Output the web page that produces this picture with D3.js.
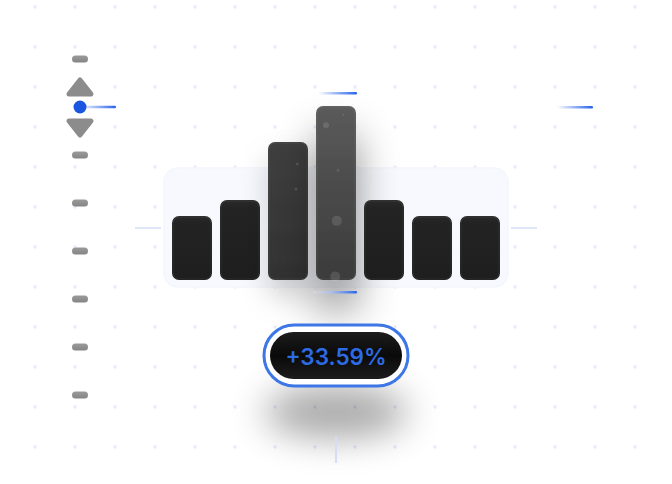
<!DOCTYPE html>
<html><head><meta charset="utf-8">
<script src="https://cdn.jsdelivr.net/npm/d3@7"></script>
<style>
html,body{margin:0;padding:0;background:#fff;}
svg{display:block;}
</style></head>
<body>
<svg id="chart" width="672" height="484"></svg>
<script>
// ---- data ----
const categories = ["A","B","C","D","E","F","G"];
const values = [64, 80, 138, 174, 80, 64, 64];
const highlight = [0, 0, 1, 2, 0, 0, 0]; // 0 normal, 1 mid, 2 peak
const changeLabel = "+33.59%";
const sliderStops = [0,1,2,3,4,5,6,7];
const sliderActive = 1;
// bubble decorations: [barIndex, fx, fy(0 top..1 bottom), r]
const bubbles = [[3,0.25,0.11,3],[3,0.55,0.37,1.3],[3,0.52,0.66,5],[3,0.48,0.98,5],[3,0.68,0.05,1],
                 [2,0.73,0.16,1.5],[2,0.7,0.34,1.5]];

const svg = d3.select("#chart");
const W = 672, H = 484;
const defs = svg.append("defs");

// grid dots
const gx = d3.range(35, W, 40), gy = d3.range(7, H, 40);
const dots = svg.append("g");
gx.forEach(x => gy.forEach(y => {
  dots.append("circle").attr("cx", x).attr("cy", y).attr("r", 1.7).attr("fill", "#e6eafa");
}));

// filters
function shadow(id, dy, sd, op){
  const f = defs.append("filter").attr("id", id).attr("x","-150%").attr("y","-100%").attr("width","400%").attr("height","300%");
  f.append("feDropShadow").attr("dx",0).attr("dy",dy).attr("stdDeviation",sd).attr("flood-color","#000").attr("flood-opacity",op);
}
shadow("shPeak", 30, 20, 0.45);
shadow("shMid", 16, 14, 0.18);
const fb = defs.append("filter").attr("id","blurBig").attr("x","-100%").attr("y","-100%").attr("width","300%").attr("height","300%");
fb.append("feGaussianBlur").attr("stdDeviation", 18);

// gradients
function lin(id, stops, x1=0,y1=0,x2=0,y2=1){
  const g = defs.append("linearGradient").attr("id",id).attr("x1",x1).attr("y1",y1).attr("x2",x2).attr("y2",y2);
  stops.forEach(s => g.append("stop").attr("offset",s[0]).attr("stop-color",s[1]).attr("stop-opacity", s[2]===undefined?1:s[2]));
}
lin("gBar0", [[0,"#2a2a2a"],[0.1,"#232323"],[1,"#1e1e1e"]]);
lin("gBar1", [[0,"#3f3f3f"],[1,"#323232"]]);
lin("gBar2", [[0,"#5b5b5b"],[0.5,"#4a4a4a"],[1,"#3b3b3b"]]);
lin("gBlueR", [[0,"#2563eb",0],[1,"#2563eb",1]], 0,0,1,0);
lin("gBlueR2", [[0,"#dcdcdc",0.6],[0.4,"#a9c0f2",0.8],[1,"#2563eb",1]], 0,0,1,0);
lin("gSlider", [[0,"#9a9a9a"],[1,"#858585"]]);
lin("gPill", [[0,"#1c1c1c"],[0.5,"#0a0a0a"],[1,"#1c1c1c"]]);

// scales
const x = d3.scaleBand().domain(categories).range([172 - 4, 500 + 4]).paddingInner(8/48).paddingOuter(4/48);
const y = d3.scaleLinear().domain([0, d3.max(values)]).range([280, 106]);

// panel
svg.append("rect").attr("x", x.range()[0]-4).attr("y", 168).attr("width", x.range()[1]-x.range()[0]+8).attr("height", 119)
  .attr("rx", 14).attr("fill", "#f8f9fe").attr("stroke","#f4f6fd").attr("stroke-width",1.5);

// side light lines
svg.append("line").attr("x1",135).attr("x2",161).attr("y1",228).attr("y2",228).attr("stroke","#dfe6f8").attr("stroke-width",2);
svg.append("line").attr("x1",511).attr("x2",537).attr("y1",228).attr("y2",228).attr("stroke","#dfe6f8").attr("stroke-width",2);

// bars
const bars = svg.append("g");
categories.forEach((c,i) => {
  const h = highlight[i];
  bars.append("rect")
    .attr("x", x(c)).attr("y", y(values[i]))
    .attr("width", x.bandwidth()).attr("height", y(0) - y(values[i]))
    .attr("rx", 7)
    .attr("fill", `url(#gBar${h})`)
    .attr("filter", h===2 ? "url(#shPeak)" : (h===1 ? "url(#shMid)" : null));
  bars.append("rect")
    .attr("x", x(c)+1).attr("y", y(values[i])+1)
    .attr("width", x.bandwidth()-2).attr("height", y(0) - y(values[i]) - 2)
    .attr("rx", 6).attr("fill","none")
    .attr("stroke", "rgba(255,255,255,0.05)").attr("stroke-width",1.5);
});
bubbles.forEach(b => {
  const c = categories[b[0]];
  const top = y(values[b[0]]), bot = y(0);
  bars.append("circle").attr("cx", x(c) + b[1]*x.bandwidth()).attr("cy", top + b[2]*(bot-top)).attr("r", b[3])
    .attr("fill", "rgba(255,255,255,0.12)");
});

// blue accent lines around peak bar
const peak = categories[values.indexOf(d3.max(values))];
svg.append("rect").attr("x", x(peak)+2).attr("y", 92).attr("width", x.bandwidth()-1).attr("height", 2.5).attr("rx",1.2).attr("fill","url(#gBlueR)");
svg.append("rect").attr("x", x(peak)-3).attr("y", 291).attr("width", x.bandwidth()+4).attr("height", 2.5).attr("rx",1.2).attr("fill","url(#gBlueR2)");
svg.append("rect").attr("x", 557).attr("y", 106).attr("width", 36).attr("height", 2.5).attr("rx",1.2).attr("fill","url(#gBlueR)");

// slider
const sy = d3.scaleLinear().domain([0,7]).range([59, 395]);
const sl = svg.append("g");
sliderStops.forEach(s => {
  if (s === sliderActive) return;
  sl.append("rect").attr("x", 72).attr("y", sy(s)-3.5).attr("width", 16).attr("height", 7).attr("rx", 3.5).attr("fill","url(#gSlider)");
});
const cy = sy(sliderActive);
sl.append("rect").attr("x", 80).attr("y", cy-1.2).attr("width", 36).attr("height", 2.5).attr("rx",1.2).attr("fill","url(#gBlueR)");
const tri = d3.line().curve(d3.curveLinearClosed);
sl.append("path").attr("d", tri([[80,80],[91,94],[69,94]])).attr("fill","#8c8c8c").attr("stroke","#8c8c8c").attr("stroke-width",5).attr("stroke-linejoin","round");
sl.append("path").attr("d", tri([[80,135],[91,121],[69,121]])).attr("fill","#8c8c8c").attr("stroke","#8c8c8c").attr("stroke-width",5).attr("stroke-linejoin","round");
sl.append("circle").attr("cx",80).attr("cy",cy).attr("r",6.5).attr("fill","#1a56e0");

// badge shadow
const bx = x(peak) + x.bandwidth()/2;
svg.append("ellipse").attr("cx", bx).attr("cy", 412).attr("rx", 72).attr("ry", 26).attr("fill","#000").attr("opacity",0.34).attr("filter","url(#blurBig)");
svg.append("line").attr("x1",bx).attr("x2",bx).attr("y1",437).attr("y2",463).attr("stroke","#d5ddf5").attr("stroke-width",2);

// badge
svg.append("rect").attr("x", bx-72).attr("y", 325).attr("width", 144).attr("height", 61).attr("rx", 30.5)
  .attr("fill","#fff").attr("stroke","#3d76e6").attr("stroke-width",3);
svg.append("rect").attr("x", bx-66).attr("y", 332).attr("width", 132).attr("height", 47).attr("rx", 23.5)
  .attr("fill","url(#gPill)");
svg.append("text").attr("x", bx).attr("y", 356).attr("text-anchor","middle").attr("dominant-baseline","central")
  .attr("font-family","Inter, 'Open Sans', sans-serif").attr("font-weight",600).attr("font-size",22.5)
  .attr("fill","#2d6be4").text(changeLabel);
</script>
</body></html>
